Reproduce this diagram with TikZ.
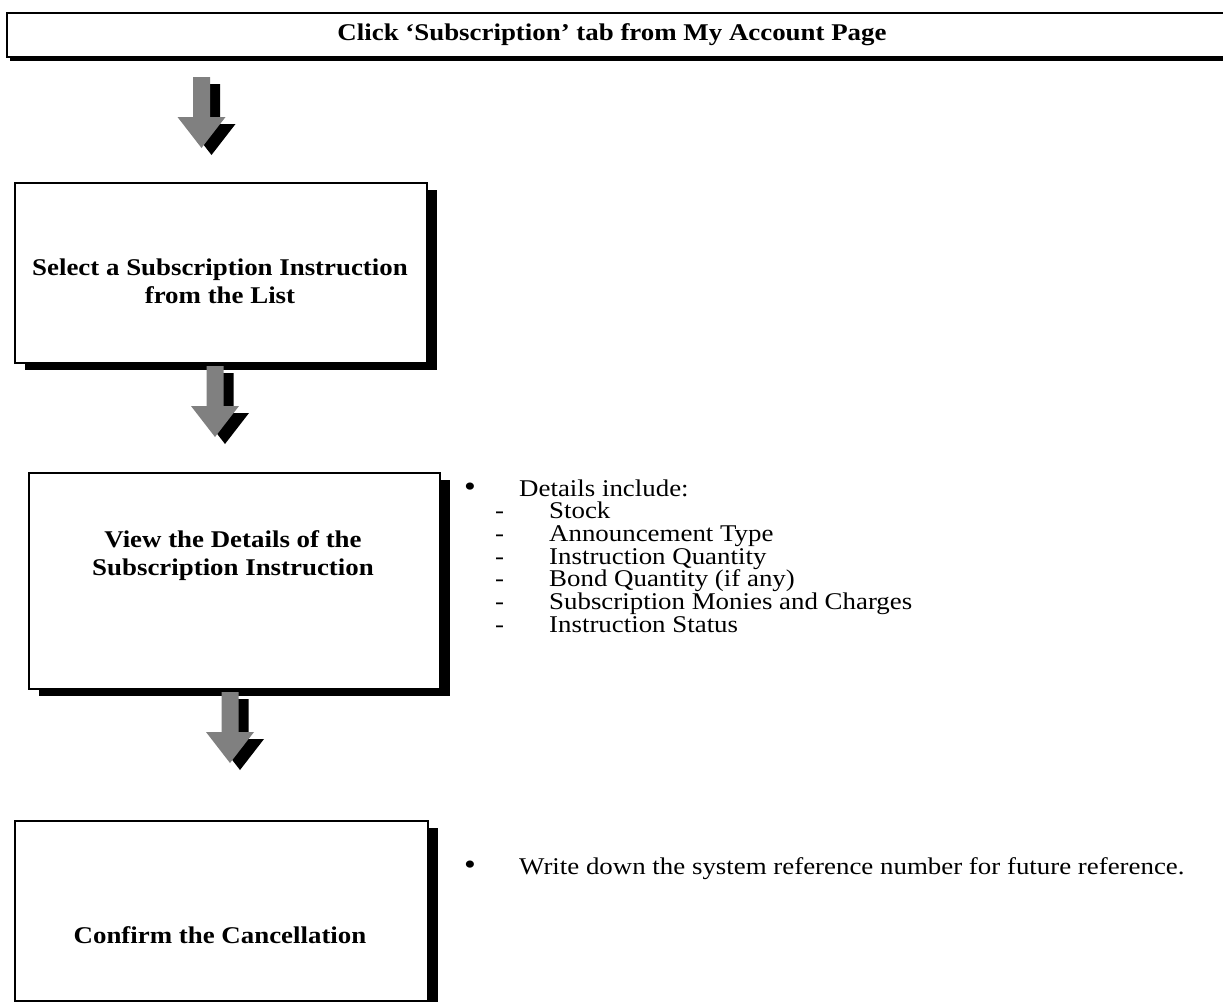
\documentclass[tikz,border=0pt]{standalone}
\usepackage{fontspec}
\setmainfont{Liberation Serif}[FakeStretch=1.12]
\usetikzlibrary{shadows}
\definecolor{arrowgray}{HTML}{808080}
\tikzset{
  x=1pt, y=1pt,
  stepbox/.style={draw=black, line width=1.8pt, fill=white, inner sep=0pt,
    general shadow={fill=black, shadow xshift=10pt, shadow yshift=-7pt}},
  boxtext/.style={font=\fontsize{24}{28}\selectfont\bfseries, align=center, inner sep=0pt},
  listtext/.style={font=\fontsize{24}{24}\selectfont, anchor=base west, inner sep=0pt},
  bulletmark/.style={font=\fontsize{30}{30}\selectfont, anchor=base west, inner sep=0pt},
  blockarrow/.pic={
    \fill[black] (10,-7) ++(-8.5,0) -- ++(17,0) -- ++(0,-40) -- ++(15.5,0)
      -- ++(-24,-31) -- ++(-24,31) -- ++(15.5,0) -- cycle;
    \fill[arrowgray] (-8.5,0) -- (8.5,0) -- (8.5,-40) -- (24,-40) -- (0,-71)
      -- (-24,-40) -- (-8.5,-40) -- cycle;
  }
}
\begin{document}
\begin{tikzpicture}
\useasboundingbox (0,0) rectangle (1223,-1001);
\clip (0,0) rectangle (1223,-1001);
\fill[white] (0,0) rectangle (1223,-1001);

% title bar, running past the right edge
\fill[black] (10,-17) rectangle (1240,-61);
\draw[line width=1.8pt, fill=white] (7,-13) rectangle (1240,-57);
\node[boxtext] (title) at (612,-35) {Click ‘Subscription’ tab from My Account Page};

% step boxes
\node[stepbox, minimum width=412pt, minimum height=180pt, anchor=north west] (select) at (14,-182) {};
\node[boxtext] (selecttext) at (220,-281) {Select a Subscription Instruction\\from the List};

\node[stepbox, minimum width=411pt, minimum height=216pt, anchor=north west] (view) at (28,-472) {};
\node[boxtext] (viewtext) at (233,-556) {View the Details of the\\Subscription Instruction};

\node[stepbox, minimum width=413pt, minimum height=180pt, anchor=north west] (confirm) at (14,-820) {};
\node[boxtext] (confirmtext) at (220,-935) {Confirm the Cancellation};

% block arrows between the steps
\pic at (201.5,-77) {blockarrow};
\pic at (215,-366) {blockarrow};
\pic at (230,-692) {blockarrow};

% details list beside the second step
\node[bulletmark] (b1) at (464,-496) {•};
\node[listtext] (details) at (519,-496) {Details include:};
\foreach \t [count=\i] in {Stock, Announcement Type, Instruction Quantity, Bond Quantity (if any), Subscription Monies and Charges, Instruction Status} {
  \node[listtext] (dash\i) at (495,-496-22.7*\i) {-};
  \node[listtext] (item\i) at (549,-496-22.7*\i) {\t};
}

% note beside the last step
\node[bulletmark] (b2) at (464,-874) {•};
\node[listtext] (note) at (519,-874) {Write down the system reference number for future reference.};
\end{tikzpicture}
\end{document}
